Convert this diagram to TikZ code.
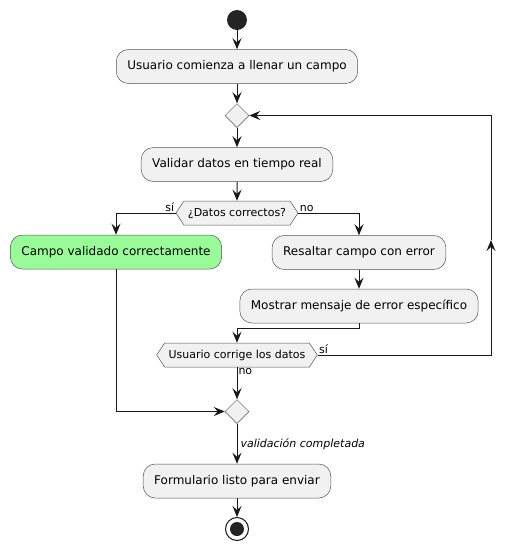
\documentclass[tikz,border=0pt]{standalone}
\usepackage{fontspec}
\setmainfont{DejaVu Sans}
\usepackage{tikz}
\usetikzlibrary{arrows.meta,shapes.geometric,shapes.symbols}

\definecolor{actfill}{HTML}{F1F1F1}
\definecolor{actline}{HTML}{181818}
\definecolor{okfill}{HTML}{98FB98}

\tikzset{
  actbox/.style={draw=actline!75, line width=0.5pt, fill=actfill, rounded corners=12pt,
    minimum height=34pt, inner xsep=11pt, font=\fontsize{12}{14}\selectfont},
  decision/.style={draw=actline!75, line width=0.5pt, fill=actfill, signal, signal to=west and east,
    signal pointer angle=113, minimum height=24pt, inner xsep=4pt, inner ysep=0pt,
    font=\fontsize{11}{13}\selectfont},
  merge/.style={draw=actline!75, line width=0.5pt, fill=actfill, diamond, aspect=1,
    minimum size=24pt, inner sep=0pt},
  flow/.style={draw=actline, line width=1pt, -{Stealth[length=11pt,width=9pt,inset=4pt]}},
  guard/.style={font=\fontsize{11}{13}\selectfont, inner sep=1pt},
}

\begin{document}
\begin{tikzpicture}[x=1pt,y=-1pt]
  \useasboundingbox (0,0) rectangle (516,550);

  \node[circle, fill=actline!95, minimum size=20pt, inner sep=0pt] (start) at (237,20) {};
  \node[actbox] (act1) at (237,66.5) {Usuario comienza a llenar un campo};
  \node[merge] (m1) at (237,115.5) {};
  \node[actbox] (act2) at (237,164.5) {Validar datos en tiempo real};
  \node[decision] (dec1) at (237,213) {¿Datos correctos?};

  \node[actbox, fill=okfill] (okbox) at (116,252) {Campo validado correctamente};
  \node[actbox] (act3) at (359,252.5) {Resaltar campo con error};
  \node[actbox] (act4) at (359,306) {Mostrar mensaje de error específico};

  \node[decision] (dec2) at (237,355) {Usuario corrige los datos};
  \node[merge] (m2) at (237,411.5) {};
  \node[actbox] (act5) at (237,481) {Formulario listo para enviar};

  \node[circle, draw=actline, line width=1pt, fill=white, minimum size=23pt, inner sep=0pt] (stop) at (237,529) {};
  \node[circle, fill=actline!95, minimum size=14pt, inner sep=0pt] at (stop) {};

  % main column
  \draw[flow] (start) -- (act1);
  \draw[flow] (act1) -- (m1);
  \draw[flow] (m1) -- (act2);
  \draw[flow] (act2) -- (dec1);

  % branches
  \draw[flow] (dec1.west) node[guard, anchor=south east] {sí} -| (okbox.north);
  \draw[flow] (dec1.east) node[guard, anchor=south west] {no} -| (act3.north);
  \draw[flow] (act3) -- (act4);
  \draw[flow] (act4.south) -- ++(0,5) -| (dec2.north);

  % loop back
  \coordinate (loopcorner) at (491,355);
  \coordinate (loopmid) at (491,240);
  \draw[flow] (dec2.east) node[guard, anchor=south west] {sí} -- (loopcorner) -- (loopmid);
  \draw[flow] (loopmid) |- (m1.east);

  \draw[flow] (dec2.south) node[guard, anchor=north west] {no} -- (m2.north);
  \draw[flow] (okbox.south) |- (m2.west);

  \draw[flow] (m2) -- node[guard, anchor=west, font=\fontsize{11}{13}\selectfont\itshape, xshift=2pt] {validación completada} (act5);
  \draw[flow] (act5) -- (stop);
\end{tikzpicture}
\end{document}
